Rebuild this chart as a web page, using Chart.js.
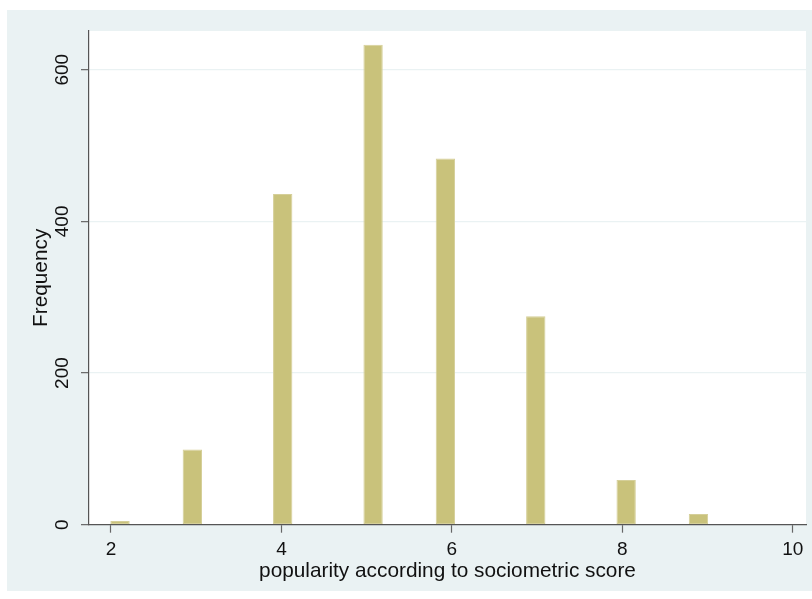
<!DOCTYPE html>
<html>
<head>
<meta charset="utf-8">
<script src="https://cdn.jsdelivr.net/npm/chart.js@4/dist/chart.umd.min.js"></script>
<style>
  html, body { margin: 0; padding: 0; background: #ffffff; }
  #wrap { width: 812px; height: 599px; }
</style>
</head>
<body>
<div id="wrap"><canvas id="c" width="812" height="599"></canvas></div>
<script>
// ---- Data (popularity score values and their counts) ----
const popularity = [2, 3, 4, 5, 6, 7, 8, 9];
const frequency  = [5, 99, 436, 633, 483, 275, 59, 14];
const nBins = 33;                       // Stata default bin count for N = 2000
const xTickValues = [2, 4, 6, 8, 10];
const yTickValues = [0, 200, 400, 600];
const xTitle = 'popularity according to sociometric score';
const yTitle = 'Frequency';

// ---- Build histogram bins (as Stata does: equal-width bins from min to max) ----
const vMin = Math.min(...popularity), vMax = Math.max(...popularity);
const binW = (vMax - vMin) / nBins;
const binCounts = new Array(nBins).fill(0);
popularity.forEach((v, i) => {
  const b = Math.min(Math.floor((v - vMin) / binW + 1e-9), nBins - 1);
  binCounts[b] += frequency[i];
});
const histData = binCounts.map((c, i) => ({ x: vMin + (i + 0.5) * binW, y: c }));

const BG = '#EAF2F3';
const bgPlugin = {
  id: 'stataBg',
  beforeDraw(chart) {
    const { ctx, chartArea: a } = chart;
    ctx.save();
    ctx.fillStyle = '#ffffff';
    ctx.fillRect(0, 0, chart.width, chart.height);
    ctx.fillStyle = BG;
    ctx.fillRect(7, 10, chart.width - 7, 581);
    ctx.fillStyle = '#ffffff';
    ctx.fillRect(a.left, a.top, a.right - a.left, a.bottom - a.top);
    ctx.restore();
  }
};

const FONT = "'Liberation Sans', Arial, Helvetica, sans-serif";

new Chart(document.getElementById('c'), {
  type: 'bar',
  data: {
    datasets: [{
      data: histData,
      backgroundColor: '#C9C27B',
      borderColor: '#D5CF99',
      borderWidth: ctx => (ctx.raw && ctx.raw.y > 0 ? 1 : 0),
      borderSkipped: false,
      barPercentage: 1.07,
      categoryPercentage: 1.0
    }]
  },
  options: {
    responsive: false,
    animation: false,
    devicePixelRatio: 1,
    layout: { padding: { left: 0, top: 31, right: 6, bottom: 0 } },
    plugins: { legend: { display: false }, tooltip: { enabled: false } },
    scales: {
      x: {
        type: 'linear',
        offset: false,
        min: 1.742,
        max: 10.156,
        afterBuildTicks(scale) { scale.ticks = xTickValues.map(v => ({ value: v })); },
        afterFit(scale) { scale.height = 74.3; },
        grid: { offset: false, drawOnChartArea: false, drawTicks: true, tickLength: 8, tickColor: '#666666', tickWidth: 1.2 },
        border: { display: true, color: '#555555', width: 1.2 },
        ticks: { color: '#111111', font: { family: FONT, size: 19 }, padding: 6, maxRotation: 0, minRotation: 0 },
        title: { display: true, text: xTitle, color: '#111111', font: { family: FONT, size: 20.8 }, padding: { top: 0, bottom: 15.5 } }
      },
      y: {
        type: 'linear',
        min: 0,
        max: 651,
        afterBuildTicks(scale) { scale.ticks = yTickValues.map(v => ({ value: v })); },
        afterFit(scale) { scale.width = 89; },
        grid: {
          color: ctx => (ctx.tick && ctx.tick.value === 0 ? 'rgba(0,0,0,0)' : BG),
          lineWidth: 1.3,
          drawTicks: true, tickLength: 8, tickColor: '#666666', tickWidth: 1.2
        },
        border: { display: true, color: '#555555', width: 1.2 },
        ticks: { color: '#111111', font: { family: FONT, size: 19 }, padding: 2, minRotation: 90, maxRotation: 90, crossAlign: 'center' },
        title: { display: true, text: yTitle, color: '#111111', font: { family: FONT, size: 20.8 }, padding: { top: 29, bottom: 0 } }
      }
    }
  },
  plugins: [bgPlugin]
});
</script>
</body>
</html>
